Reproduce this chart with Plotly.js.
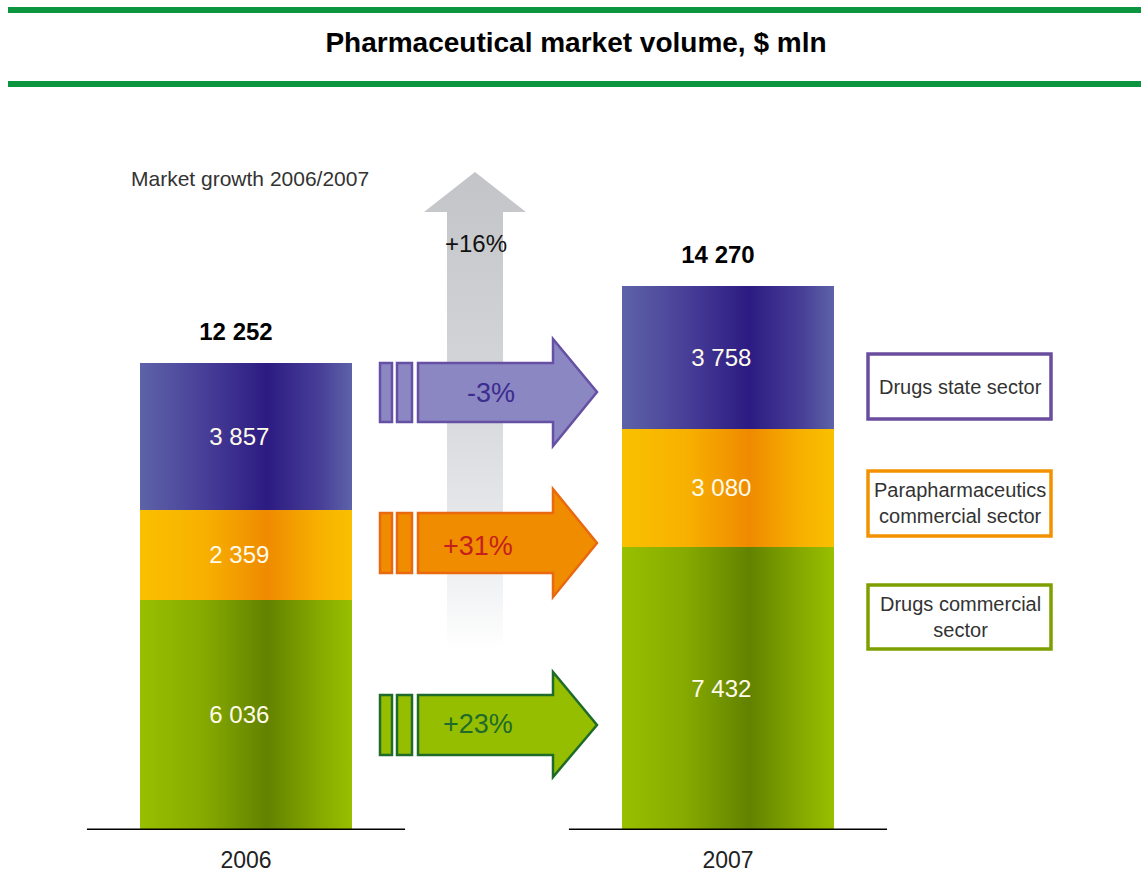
<!DOCTYPE html>
<html><head><meta charset="utf-8">
<script src="https://cdn.plot.ly/plotly-3.0.1.min.js"></script>
<style>html,body{margin:0;padding:0;background:#fff}#chart{width:1141px;height:880px}</style>
</head><body><div id="chart"></div>
<script>
// ---- data ----
const years = ['2006', '2007'];
const drugsCommercial = [6036, 7432];
const parapharmaCommercial = [2359, 3080];
const drugsState = [3857, 3758];
const growthState = '-3%';
const growthParapharma = '+31%';
const growthDrugsCommercial = '+23%';
const growthTotal = '+16%';
const legendLabels = ['Drugs state sector', 'Parapharmaceutics<br>commercial sector', 'Drugs commercial<br>sector'];
const growthCaption = 'Market growth 2006/2007';
const chartTitle = 'Pharmaceutical market volume, $ mln';

const totals = years.map((_, i) => drugsCommercial[i] + parapharmaCommercial[i] + drugsState[i]);
const fmt = n => String(n).replace(/\B(?=(\d{3})+(?!\d))/g, ' ');
const NB = '\u00a0';

// ---- geometry helpers (pixel -> paper) ----
const W = 1141, H = 880, L = 53, R = 28, T = 100, B = 50;
const PW = W - L - R, PH = H - T - B;
const px = x => (x - L) / PW;
const py = y => (H - B - y) / PH;
const pathOf = pts => 'M' + pts.map(p => px(p[0]).toFixed(5) + ',' + py(p[1]).toFixed(5)).join(' L') + ' Z';

const SANS = 'Liberation Sans, Arial, Helvetica, sans-serif';

function barTrace(vals, name, color) {
  return {
    type: 'bar', x: years, y: vals, name: name, width: 0.44,
    marker: {color: color, line: {width: 0}},
    text: vals.map(v => fmt(v) + NB + NB), textposition: 'inside', insidetextanchor: 'middle',
    textfont: {family: SANS, size: 24, color: '#fffbea'},
    constraintext: 'none', hoverinfo: 'skip', showlegend: false
  };
}

const data = [
  barTrace(drugsCommercial, 'Drugs commercial sector', '#7da000'),
  barTrace(parapharmaCommercial, 'Parapharmaceutics commercial sector', '#f5a800'),
  barTrace(drugsState, 'Drugs state sector', '#3f3690'),
  {type: 'scatter', mode: 'markers+text', x: years, y: totals,
   text: totals.map(t => '<b>' + fmt(t) + NB + NB + NB + '</b>'), textposition: 'top center',
   textfont: {family: SANS, size: 24, color: '#000'},
   marker: {size: 26, color: 'rgba(0,0,0,0)'}, hoverinfo: 'skip', showlegend: false, cliponaxis: false}
];

function hArrow(yt, yb, ht, hb, tip, fill, stroke) {
  const out = [];
  out.push({type: 'rect', xref: 'paper', yref: 'paper', x0: px(380), x1: px(392), y0: py(yb), y1: py(yt),
            fillcolor: fill, line: {color: stroke, width: 2.5}});
  out.push({type: 'rect', xref: 'paper', yref: 'paper', x0: px(397), x1: px(412), y0: py(yb), y1: py(yt),
            fillcolor: fill, line: {color: stroke, width: 2.5}});
  out.push({type: 'path', xref: 'paper', yref: 'paper',
            path: pathOf([[418, yt], [553, yt], [553, ht], [597, tip], [553, hb], [553, yb], [418, yb]]),
            fillcolor: fill, line: {color: stroke, width: 2.5}});
  return out;
}

const shapes = [
  // grey growth arrow (gradient applied after render)
  {type: 'path', xref: 'paper', yref: 'paper',
   path: pathOf([[447, 650], [447, 212], [424, 212], [475, 172], [526, 212], [503, 212], [503, 650]]),
   fillcolor: '#c9cbce', line: {width: 0}},
  ...hArrow(363, 422, 339, 446, 392, '#8b87c3', '#6650a3'),
  ...hArrow(513, 573, 489, 597, 543, '#f08c00', '#e8690f'),
  ...hArrow(695, 755, 672, 777, 725, '#96be00', '#1f6b2a'),
  // header green rules
  {type: 'line', xref: 'paper', yref: 'paper', x0: px(8), x1: px(1141), y0: py(10), y1: py(10), line: {color: '#0a953e', width: 6}},
  {type: 'line', xref: 'paper', yref: 'paper', x0: px(8), x1: px(1141), y0: py(84), y1: py(84), line: {color: '#0a953e', width: 6}},
  // legend boxes
  {type: 'rect', xref: 'paper', yref: 'paper', x0: px(868), x1: px(1051), y0: py(419), y1: py(354), line: {color: '#6a4d9f', width: 3.5}},
  {type: 'rect', xref: 'paper', yref: 'paper', x0: px(868), x1: px(1051), y0: py(536), y1: py(471), line: {color: '#f39200', width: 3.5}},
  {type: 'rect', xref: 'paper', yref: 'paper', x0: px(868), x1: px(1051), y0: py(649), y1: py(585), line: {color: '#7da000', width: 3.5}}
];
// baselines under each bar
years.forEach((_, i) => shapes.push({type: 'line', xref: 'x', yref: 'y', x0: i - 0.33, x1: i + 0.33, y0: 0, y1: 0,
  line: {color: '#000', width: 3}}));

const ann = (x, y, text, size, color) => ({
  xref: 'paper', yref: 'paper', x: px(x), y: py(y), text: text, showarrow: false,
  xanchor: 'center', yanchor: 'middle', font: {family: SANS, size: size, color: color}
});

const annotations = [
  ann(250, 178, growthCaption, 21, '#333'),
  ann(476, 243, growthTotal, 24, '#111'),
  ann(491, 393, growthState, 27, '#3b2c8e'),
  ann(478, 546, growthParapharma, 27, '#c41f1f'),
  ann(478, 724, growthDrugsCommercial, 27, '#1e6b2b'),
  ann(960, 387, legendLabels[0], 20, '#333'),
  ann(960, 503, legendLabels[1], 20, '#333'),
  ann(960, 617, legendLabels[2], 20, '#333')
];

const layout = {
  width: W, height: H, margin: {l: L, r: R, t: T, b: B},
  paper_bgcolor: '#fff', plot_bgcolor: '#fff',
  barmode: 'stack', separators: '. ',
  title: {text: '<b>' + chartTitle + '</b>', font: {family: SANS, size: 28, color: '#000'},
          xref: 'paper', x: px(576), xanchor: 'center', yref: 'container', y: 1 - 42 / H, yanchor: 'middle'},
  xaxis: {type: 'category', range: [-0.4004, 1.7988], showgrid: false, zeroline: false, showline: false,
          ticks: '', ticklabelstandoff: 14,
          tickfont: {family: SANS, size: 23, color: '#222'}},
  yaxis: {range: [0, 19150], showticklabels: false, ticks: '', showline: false, showgrid: false, zeroline: false},
  shapes: shapes, annotations: annotations, showlegend: false
};

Plotly.newPlot('chart', data, layout, {staticPlot: true, displayModeBar: false}).then(gd => {
  const NS = 'http://www.w3.org/2000/svg';
  const svg = gd.querySelector('.main-svg');
  let defs = svg.querySelector('defs');
  if (!defs) { defs = document.createElementNS(NS, 'defs'); svg.insertBefore(defs, svg.firstChild); }
  function addGrad(id, stops, vertical) {
    const g = document.createElementNS(NS, 'linearGradient');
    g.setAttribute('id', id);
    g.setAttribute('x1', '0'); g.setAttribute('y1', '0');
    g.setAttribute('x2', vertical ? '0' : '1'); g.setAttribute('y2', vertical ? '1' : '0');
    stops.forEach(s => {
      const st = document.createElementNS(NS, 'stop');
      st.setAttribute('offset', s[0]); st.setAttribute('stop-color', s[1]);
      g.appendChild(st);
    });
    defs.appendChild(g);
  }
  addGrad('barGrad0', [[0, '#98c000'], [0.3, '#86aa00'], [0.6, '#628200'], [0.85, '#86aa00'], [1, '#98c000']]);
  addGrad('barGrad1', [[0, '#fac000'], [0.3, '#f7b100'], [0.6, '#ef8a00'], [0.85, '#f7b100'], [1, '#fac000']]);
  addGrad('barGrad2', [[0, '#5d63a8'], [0.3, '#483f98'], [0.6, '#2c1b82'], [0.85, '#483f98'], [1, '#5d63a8']]);
  addGrad('greyGrad', [[0, '#c2c4c7'], [0.45, '#d4d6d9'], [0.8, '#eaecee'], [1, '#ffffff']], true);
  gd.querySelectorAll('.barlayer .trace').forEach((t, i) => {
    t.querySelectorAll('path').forEach(p => { p.style.fill = 'url(#barGrad' + i + ')'; });
  });
  gd.querySelectorAll('.shapelayer path').forEach(p => {
    if (getComputedStyle(p).fill === 'rgb(201, 203, 206)') p.style.fill = 'url(#greyGrad)';
  });
});
</script>
</body></html>
